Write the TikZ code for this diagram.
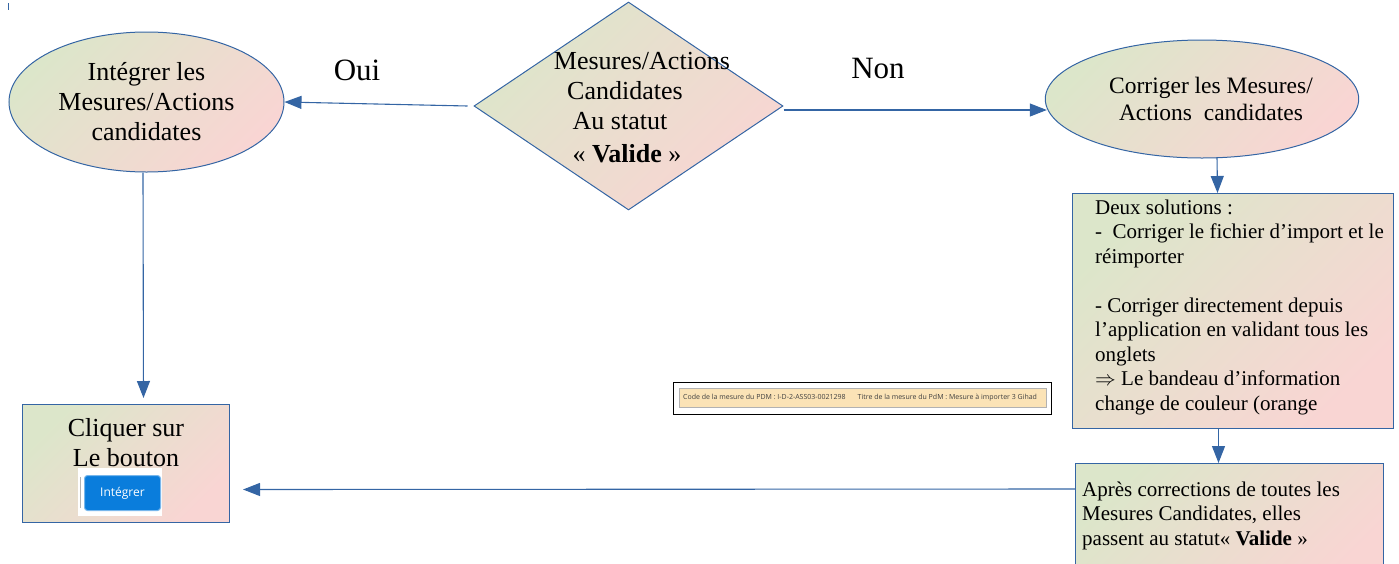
\documentclass[tikz,border=0pt]{standalone}
\usepackage{fontspec}
\setmainfont{Liberation Serif}
\newfontfamily\uisans{Open Sans}
\usetikzlibrary{shapes.geometric,arrows.meta,calc}
\definecolor{lineblue}{HTML}{3465A4}
\definecolor{gtop}{HTML}{DCE6CA}
\definecolor{gbot}{HTML}{F9D5D3}
\definecolor{btnblue}{HTML}{0A7DDC}
\definecolor{bannerfill}{HTML}{FBE3B6}
\begin{document}
\begin{tikzpicture}[x=1pt,y=-1pt,
  grad/.style={draw=lineblue, line width=1pt, top color=gtop, bottom color=gbot, shading angle=45},
  arr/.style={draw=lineblue, line width=1.1pt, -{Triangle[length=17pt,width=13pt]}},
  bigtxt/.style={font=\fontsize{26}{30}\selectfont},
  boxtxt/.style={anchor=base west, inner sep=0, align=left, font=\fontsize{21}{24.5}\selectfont}]
\useasboundingbox (0,0) rectangle (1399,563);
\clip (0,0) rectangle (1399,563);

% small tick
\draw[lineblue, line width=1pt] (8,3) -- (8,10);

% left ellipse
\node[grad, ellipse, minimum width=275, minimum height=140, inner sep=0, align=center, bigtxt] (e1) at (146.5,102) {Intégrer les\\Mesures/Actions\\candidates};

% diamond
\node[grad, diamond, minimum width=309, minimum height=208, inner sep=0] (d) at (628.5,106) {};
\node[align=center, inner sep=0, bigtxt] (dt) at (642,108) {Mesures/Actions\\Candidates\makebox[34pt]{}\\Au statut\makebox[44pt]{}\\[3pt]« \textbf{Valide} »\makebox[30pt]{}};

% labels
\node[font=\fontsize{31}{36}\selectfont] (oui) at (357,70) {Oui};
\node[font=\fontsize{31}{36}\selectfont] (non) at (878,68) {Non};

% right ellipse
\node[grad, ellipse, minimum width=271, minimum height=118, inner sep=0, align=center, font=\fontsize{23.5}{27}\selectfont] (e2) at (1202,99) {\makebox[18pt]{}Corriger les Mesures/\\\makebox[18pt]{}Actions\ \ candidates};

% box 1
\node[grad, rectangle, minimum width=321, minimum height=235, inner sep=0, anchor=north west] (b1) at (1072,193) {};
\node[boxtxt] (b1t) at (1095,410) {Deux solutions :\\-\ \ Corriger le fichier d’import et le\\réimporter\\[24.5pt]- Corriger directement depuis\\l’application en validant tous les\\onglets\\$\Rightarrow$ Le bandeau d’information\\change de couleur (orange};

% box 2
\node[grad, rectangle, minimum width=308, minimum height=125, inner sep=0, anchor=north west] (b2) at (1075,463) {};
\node[boxtxt] (b2t) at (1082,545) {Après corrections de toutes les\\Mesures Candidates, elles\\passent au statut« \textbf{Valide} »};

% left box
\node[grad, rectangle, minimum width=207, minimum height=118, inner sep=0, anchor=north west] (lb) at (22,404) {};
\node[align=center, inner sep=0, anchor=base, bigtxt] (lbt) at (126,466) {Cliquer sur\\Le bouton};
\node[fill=white, minimum width=84, minimum height=48, inner sep=0] (btnbg) at (120,492) {};
\draw[black!30, line width=1pt] (80.5,477) -- (80.5,508);
\node[fill=btnblue, draw=btnblue!55!white, line width=1pt, rounded corners=3pt, minimum width=76, minimum height=35, inner sep=0, text=white, font=\uisans\fontsize{12}{14}\selectfont] (btn) at (122.5,493) {Intégrer};

% banner
\node[draw=black, fill=white, line width=0.8pt, minimum width=378, minimum height=32, anchor=north west, inner sep=0] (bo) at (673,382) {};
\node[fill=bannerfill, draw=black!30, line width=0.5pt, minimum width=367, minimum height=19, anchor=north west, inner sep=0] (bi) at (679,388) {};
\node[anchor=west, inner sep=0, font=\uisans\fontsize{7}{8}\selectfont, text=black!75] (bt) at (683,397.5) {Code de la mesure du PDM : I-D-2-ASS03-0021298\hspace{12pt}Titre de la mesure du PdM : Mesure à importer 3 Gihad};

% connectors
\draw[arr] ([xshift=-6pt]d.west) -- (e1.east);
\draw[arr] ($(d.east)+(0,4)$) -- ($(e2.west)+(2,11)$);
\draw[arr] ($(e2.south)+(15,-1)$) -- ($(b1.north)+(-15.5,0)$);
\draw[arr] ($(b1.south)+(-14.5,0)$) -- ($(b2.north)+(-11,0)$);
\draw[arr, shorten >=13pt] ($(b2.north west)+(0,26)$) -- ($(lb.east)+(0,26)$);
\draw[arr, shorten >=6pt] ($(e1.south)+(-3.5,0)$) -- ($(lb.north)+(17.5,0)$);
\end{tikzpicture}
\end{document}
